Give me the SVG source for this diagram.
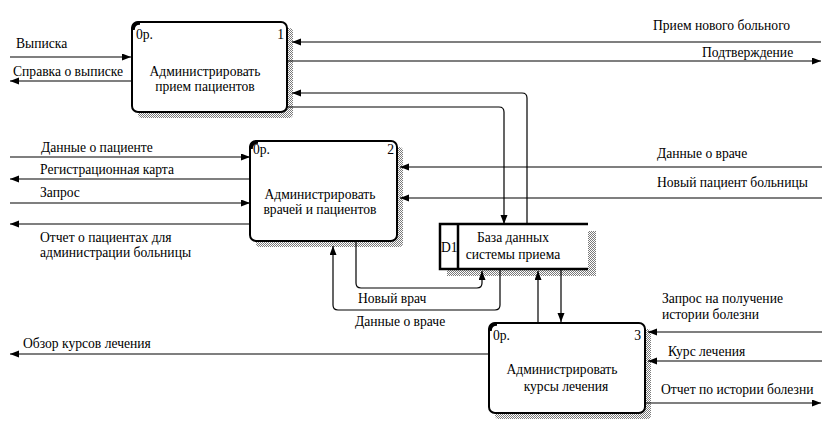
<svg xmlns="http://www.w3.org/2000/svg" width="828" height="426" viewBox="0 0 828 426">
<style>
text{font-family:"Liberation Serif","Times New Roman",serif;font-size:13.6px;fill:#000}
.c{text-anchor:middle}
.r{text-anchor:end}
.box{fill:#fff;stroke:#000;stroke-width:2}
.sh{fill:url(#hatch);stroke:none}
.ln{fill:none;stroke:#000;stroke-width:1.2}
.cor{fill:none;stroke:#000;stroke-width:3.5}
.st{fill:none;stroke:#000;stroke-width:2.5}
</style>
<defs>
<pattern id="hatch" width="2" height="2" patternUnits="userSpaceOnUse">
<rect width="2" height="2" fill="#fff"/>
<rect width="1" height="1" fill="#7a7a7a"/>
<rect x="1" y="1" width="1" height="1" fill="#7a7a7a"/>
</pattern>
<marker id="ah" markerUnits="userSpaceOnUse" markerWidth="10" markerHeight="8" refX="9" refY="3.5" orient="auto">
<path d="M0,0 L9,3.5 L0,7 z" fill="#000"/>
</marker>
</defs>

<g id="node1">
<rect class="sh" x="138" y="28" width="155" height="90" rx="4"/>
<rect class="box" x="132" y="22" width="155" height="90" rx="6"/>
<path class="cor" d="M133,30 Q133,23 140,23"/>
<text x="136" y="39">0р.</text>
<text class="r" x="284" y="39">1</text>
<text class="c" x="205" y="76">Администрировать</text>
<text class="c" x="205" y="91">прием пациентов</text>
</g>

<g id="node2">
<rect class="sh" x="256" y="147" width="147" height="100" rx="4"/>
<rect class="box" x="250" y="141" width="147" height="100" rx="6"/>
<path class="cor" d="M251,149 Q251,142 258,142"/>
<text x="253" y="154">0р.</text>
<text class="r" x="394" y="154">2</text>
<text class="c" x="320" y="199">Администрировать</text>
<text class="c" x="320" y="214">врачей и пациентов</text>
</g>

<g id="node3">
<rect class="sh" x="495" y="329" width="156" height="90" rx="4"/>
<rect class="box" x="489" y="323" width="156" height="90" rx="6"/>
<path class="cor" d="M490,331 Q490,324 497,324"/>
<text x="493" y="340">0р.</text>
<text class="r" x="641" y="340">3</text>
<text class="c" x="562" y="374">Администрировать</text>
<text class="c" x="566" y="391">курсы лечения</text>
</g>

<g id="store">
<rect class="sh" x="588" y="231" width="8" height="45"/>
<rect class="sh" x="447" y="269" width="149" height="7"/>
<rect x="440" y="224" width="148" height="45" fill="#fff"/>
<path class="st" d="M588,224 H440 V269 H588 M458,224 V269"/>
<text x="441" y="252">D1</text>
<text class="c" x="513" y="242">База данных</text>
<text class="c" x="513" y="259">системы приема</text>
</g>

<g id="connectors">
<path class="ln" d="M10,57 H131" marker-end="url(#ah)"/>
<path class="ln" d="M132,81 H10" marker-end="url(#ah)"/>
<path class="ln" d="M821,42 H292" marker-end="url(#ah)"/>
<path class="ln" d="M287,61 H821" marker-end="url(#ah)"/>
<path class="ln" d="M527,224 V98 Q527,93 522,93 H292" marker-end="url(#ah)"/>
<path class="ln" d="M287,107 H499 Q504,107 504,112 V224" marker-end="url(#ah)"/>

<path class="ln" d="M10,157 H250" marker-end="url(#ah)"/>
<path class="ln" d="M250,179 H10" marker-end="url(#ah)"/>
<path class="ln" d="M10,203 H250" marker-end="url(#ah)"/>
<path class="ln" d="M250,224 H10" marker-end="url(#ah)"/>
<path class="ln" d="M822,167 H400" marker-end="url(#ah)"/>
<path class="ln" d="M822,198 H400" marker-end="url(#ah)"/>

<path class="ln" d="M356,241 V283 Q356,288 361,288 H477 Q482,288 482,283 V271" marker-end="url(#ah)"/>
<path class="ln" d="M500,270 V305 Q500,310 495,310 H338 Q333,310 333,305 V246" marker-end="url(#ah)"/>
<path class="ln" d="M538,323 V271" marker-end="url(#ah)"/>
<path class="ln" d="M561,270 V322" marker-end="url(#ah)"/>

<path class="ln" d="M489,354 H10" marker-end="url(#ah)"/>
<path class="ln" d="M822,332 H648" marker-end="url(#ah)"/>
<path class="ln" d="M822,361 H648" marker-end="url(#ah)"/>
<path class="ln" d="M645,403 H821" marker-end="url(#ah)"/>
</g>

<g id="labels">
<text x="16" y="48">Выписка</text>
<text x="13" y="76">Справка о выписке</text>
<text x="653" y="30">Прием нового больного</text>
<text x="702" y="57">Подтверждение</text>
<text x="41" y="152">Данные о пациенте</text>
<text x="40" y="174">Регистрационная карта</text>
<text x="40" y="197">Запрос</text>
<text x="40" y="242">Отчет о пациентах для</text>
<text x="40" y="257">администрации больницы</text>
<text x="657" y="158">Данные о враче</text>
<text x="657" y="187">Новый пациент больницы</text>
<text x="358" y="303">Новый врач</text>
<text x="355" y="326">Данные о враче</text>
<text x="23" y="348">Обзор курсов лечения</text>
<text x="662" y="303">Запрос на получение</text>
<text x="662" y="319">истории болезни</text>
<text x="668" y="356">Курс лечения</text>
<text x="661" y="394">Отчет по истории болезни</text>
</g>
</svg>
